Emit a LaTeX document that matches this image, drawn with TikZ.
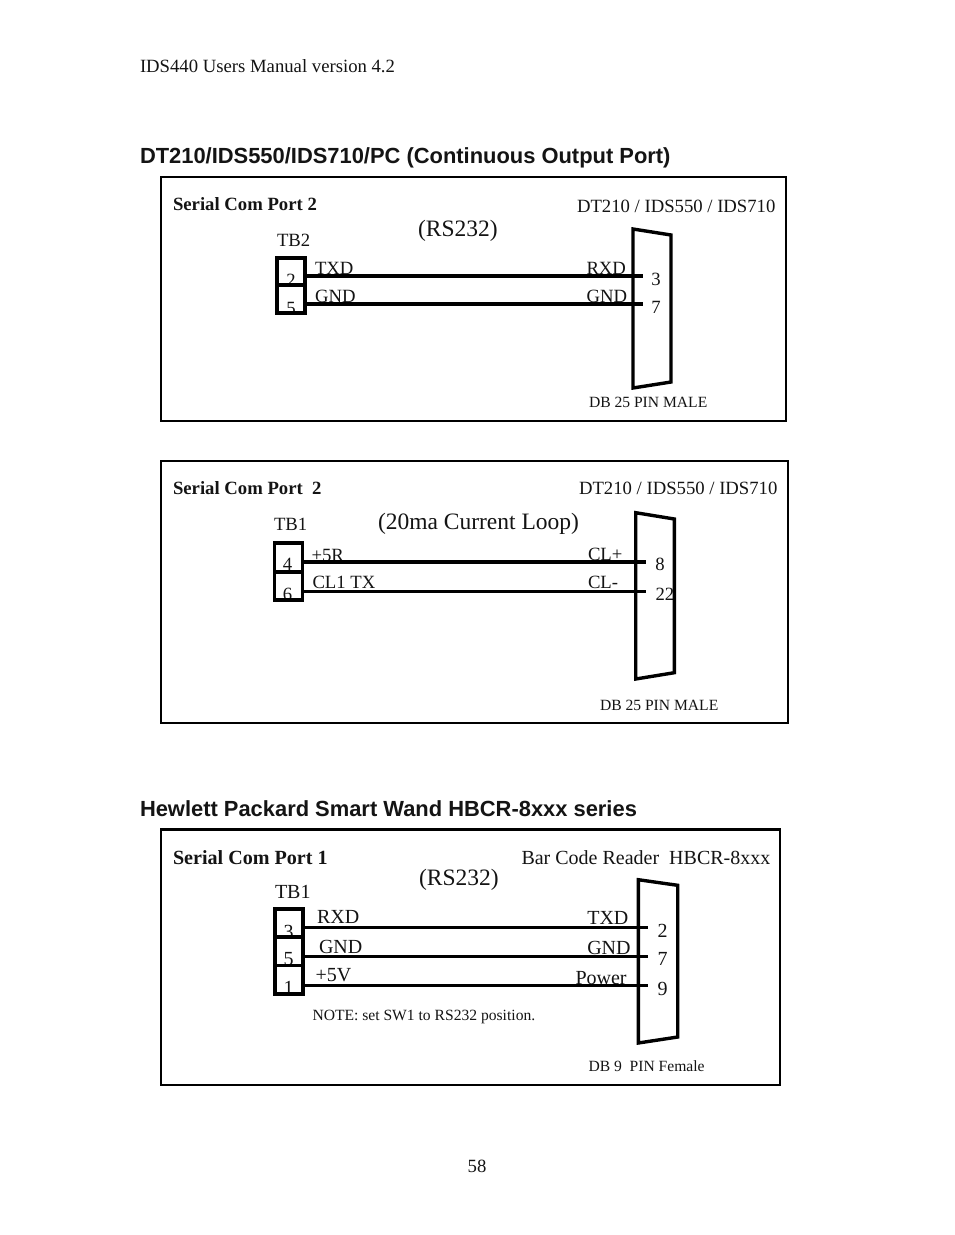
\documentclass[tikz,border=0pt]{standalone}
\usepackage{fontspec}
\setmainfont{Liberation Serif}
\newfontfamily\headfont{Liberation Sans}
\tikzset{
  lab/.style={anchor=base west,inner sep=0pt,outer sep=0pt,text=black!92},
  ctr/.style={anchor=base,inner sep=0pt,outer sep=0pt,text=black!92},
  fsm/.style={font=\fontsize{15.6}{18}\selectfont},
  fmd/.style={font=\fontsize{18.7}{20}\selectfont},
  fme/.style={font=\fontsize{20}{22}\selectfont},
  flg/.style={font=\fontsize{23.5}{26}\selectfont},
  fbd/.style={font=\fontsize{18.7}{20}\selectfont\bfseries},
  fbe/.style={font=\fontsize{20.1}{22}\selectfont\bfseries},
  fhd/.style={font=\fontsize{21.9}{24}\selectfont\headfont\bfseries},
  panel/.style={draw=black,line width=2.6pt,fill=none,inner sep=0pt,outer sep=0pt},
  cell/.style={draw=black,line width=3.6pt,fill=none,inner sep=0pt,outer sep=0pt,minimum width=28pt},
  wire/.style={draw=black,line width=3.2pt},
  shell/.style={draw=black,line width=3.4pt,line join=miter},
}
\begin{document}
\begin{tikzpicture}[x=1pt,y=-1pt]
\useasboundingbox (0,0) rectangle (954,1235);
\fill[white] (0,0) rectangle (954,1235);
% page text
\node[lab,fmd] (hdr) at (140,72) {IDS440 Users Manual version 4.2};
\node[lab,fhd] (h1) at (140,163) {DT210/IDS550/IDS710/PC (Continuous Output Port)};
\node[lab,fhd] (h2) at (140,816) {Hewlett Packard Smart Wand HBCR-8xxx series};
\node[ctr,fmd] (pg) at (477,1172) {58};
% panels
\node[panel,minimum width=625pt,minimum height=244pt] (p1) at (473.5,299) {};
\node[panel,minimum width=627pt,minimum height=262pt] (p2) at (474.5,592) {};
\node[panel,minimum width=619pt,minimum height=255.5pt] (p3) at (470.5,957.25) {};

%% panel 1
\node[lab,fbd] (a0) at (173,210) {Serial Com Port 2};
\node[lab,fmd] (a1) at (577,212) {DT210 / IDS550 / IDS710};
\node[lab,fmd] (a2) at (277,246) {TB2};
\node[lab,flg] (a3) at (418,236) {(RS232)};
\node[lab,fmd] (a4) at (315,274) {TXD};
\node[lab,fmd] (a5) at (315,302) {GND};
\node[lab,fmd] (a6) at (586.5,274) {RXD};
\node[lab,fmd] (a7) at (586.5,302) {GND};
\node[ctr,fmd] (a8) at (291,286) {2};
\node[ctr,fmd] (a9) at (291,314) {5};
\node[ctr,fmd] (a10) at (656,285) {3};
\node[ctr,fmd] (a11) at (656,313) {7};
\node[lab,fsm] (a12) at (589,407.5) {DB 25 PIN MALE};
\node[cell,minimum height=27.5pt] (ac1) at (291,271.5) {};
\node[cell,minimum height=27.5pt] (ac2) at (291,299) {};
\coordinate (as1) at (305,276); \coordinate (ae1) at (642.5,276);
\coordinate (as2) at (305,304); \coordinate (ae2) at (642.5,304);
\draw[wire] (as1) -- (ae1);
\draw[wire] (as2) -- (ae2);
\draw[shell] (633,229) -- (671,235) -- (671,382) -- (633,388) -- cycle;

%% panel 2
\node[lab,fbd] (b0) at (173,494) {Serial Com Port\ \ 2};
\node[lab,fmd] (b1) at (579,494) {DT210 / IDS550 / IDS710};
\node[lab,fmd] (b2) at (274,530) {TB1};
\node[lab,flg] (b3) at (378,529.5) {(20ma Current Loop)};
\node[lab,fmd] (b4) at (311.5,561) {+5R};
\node[lab,fmd] (b5) at (312.5,588) {CL1 TX};
\node[lab,fmd] (b6) at (588,560) {CL+};
\node[lab,fmd] (b7) at (588,588) {CL-};
\node[ctr,fmd] (b8) at (287.5,570) {4};
\node[ctr,fmd] (b9) at (287.5,600) {6};
\node[ctr,fmd] (b10) at (660,570) {8};
\node[lab,fmd] (b11) at (655.5,600) {22};
\node[lab,fsm] (b12) at (600,710) {DB 25 PIN MALE};
\node[cell,minimum height=28.5pt] (bc1) at (288.3,557.5) {};
\node[cell,minimum height=28.5pt] (bc2) at (288.3,586) {};
\coordinate (bs1) at (302,561.7); \coordinate (be1) at (645.7,561.7);
\coordinate (bs2) at (302,591.7); \coordinate (be2) at (645.7,591.7);
\draw[wire,line width=4pt] (bs1) -- (be1);
\draw[wire] (bs2) -- (be2);
\draw[shell] (635.7,512.7) -- (674.3,519) -- (674.3,672.7) -- (635.7,679) -- cycle;

%% panel 3
\node[lab,fbe] (c0) at (173,864) {Serial Com Port 1};
\node[lab,fme] (c1) at (521.5,864) {Bar Code Reader\ \ HBCR-8xxx};
\node[lab,fme] (c2) at (275,898) {TB1};
\node[lab,flg] (c3) at (419,885.5) {(RS232)};
\node[lab,fme] (c4) at (317,923.7) {RXD};
\node[lab,fme] (c5) at (319,953) {GND};
\node[lab,fme] (c6) at (315.5,981.3) {+5V};
\node[lab,fme] (c7) at (587.3,924.7) {TXD};
\node[lab,fme] (c8) at (587.3,954.7) {GND};
\node[lab,fme] (c9) at (575.5,984.7) {Power};
\node[ctr,fme] (c10) at (288.5,938) {3};
\node[ctr,fme] (c11) at (288.5,965) {5};
\node[ctr,fme] (c12) at (288.5,994.5) {1};
\node[ctr,fme] (c13) at (662.5,937.5) {2};
\node[ctr,fme] (c14) at (662.5,965.5) {7};
\node[ctr,fme] (c15) at (662.5,995) {9};
\node[lab,fsm] (c16) at (312.5,1020.7) {NOTE: set SW1 to RS232 position.};
\node[lab,fsm] (c17) at (588.5,1071.3) {DB 9\ \ PIN Female};
\node[cell,minimum height=28.3pt] (cc1) at (289,923) {};
\node[cell,minimum height=28.3pt] (cc2) at (289,951.3) {};
\node[cell,minimum height=28.3pt] (cc3) at (289,979.6) {};
\coordinate (cs1) at (303,927.3); \coordinate (ce1) at (647.7,927.3);
\coordinate (cs2) at (303,956.3); \coordinate (ce2) at (647.7,956.3);
\coordinate (cs3) at (303,985.3); \coordinate (ce3) at (647.7,985.3);
\draw[wire] (cs1) -- (ce1);
\draw[wire] (cs2) -- (ce2);
\draw[wire] (cs3) -- (ce3);
\draw[shell] (638.3,879.7) -- (677.7,885.3) -- (677.7,1037) -- (638.3,1043) -- cycle;
\end{tikzpicture}
\end{document}
